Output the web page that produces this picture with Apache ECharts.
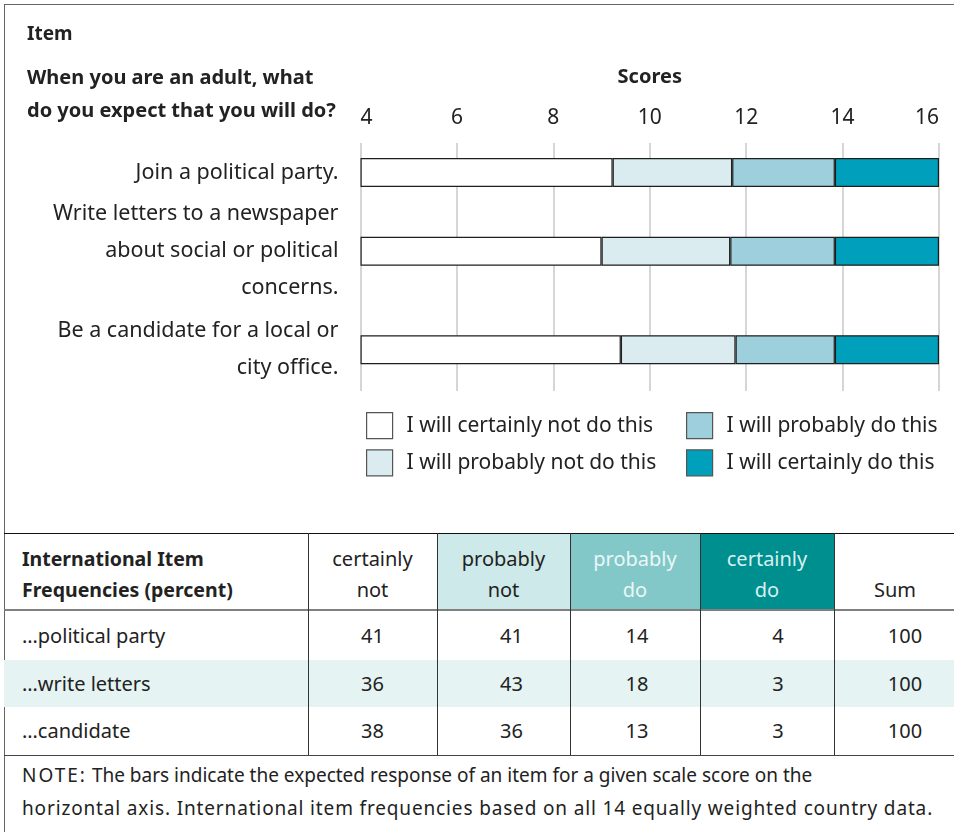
<!DOCTYPE html>
<html>
<head>
<meta charset="utf-8">
<script src="https://cdn.jsdelivr.net/npm/echarts@6/dist/echarts.min.js"></script>
<style>
  html, body { margin: 0; padding: 0; background: #fff; }
  body { width: 954px; height: 832px; position: relative; overflow: hidden; font-family: "Noto Sans", sans-serif; color: #222; }
  #frame { position: absolute; left: 4px; top: 4px; width: 960px; height: 860px; border: 1px solid #666; box-sizing: border-box; }
  #myChart { position: absolute; left: 0; top: 0; width: 954px; height: 530px; }
  .cell { position: absolute; box-sizing: border-box; font-size: 20px; line-height: 31px; white-space: nowrap; }
  .hline { position: absolute; left: 4px; width: 960px; }
  .vline { position: absolute; width: 1px; background: #333; top: 533px; height: 222px; }
  #note { position: absolute; left: 22px; top: 759px; font-size: 19px; line-height: 33px; white-space: nowrap; }
</style>
</head>
<body>
<div id="frame"></div>
<div id="myChart"></div>
<div id="table"></div>
<div id="note"><span style="letter-spacing:2px">NOTE:</span> The bars indicate the expected response of an item for a given scale score on the<br><span style="letter-spacing:0.85px">horizontal axis. International item frequencies based on all 14 equally weighted country data.</span></div>
<script>
// items shown in the chart
const items = [
  'Join a political party.',
  'Write letters to a newspaper\nabout social or political\nconcerns.',
  'Be a candidate for a local or\ncity office.'
]
// scale score where each response band ends
const certainlyNotEnd = [9.23, 9.00, 9.40]
const probablyNotEnd = [11.71, 11.67, 11.78]
const probablyDoEnd = [13.84, 13.84, 13.84]
const certainlyDoEnd = [16, 16, 16]
const scoreTicks = [4, 6, 8, 10, 12, 14, 16]

const seriesNames = [
  'I will certainly not do this',
  'I will probably not do this',
  'I will probably do this',
  'I will certainly do this'
]
const colors = ['#ffffff', '#dbecf0', '#9ecfdc', '#00a0bd']

// table
const rowNames = ['\u2026political party', '\u2026write letters', '\u2026candidate']
const freqCertainlyNot = [41, 36, 38]
const freqProbablyNot = [41, 43, 36]
const freqProbablyDo = [14, 18, 13]
const freqCertainlyDo = [4, 3, 3]
const freqSum = [100, 100, 100]

// layout: rows are placed in 13 equal slots so the spacing matches
const slotCount = 13
const itemSlots = [1, 5, 10]

const xMin = scoreTicks[0]
const xMax = scoreTicks[scoreTicks.length - 1]

let slotLabels = []
for (let i = 0; i < slotCount; i++) slotLabels.push('')
itemSlots.forEach((s, i) => { slotLabels[s] = items[i] })

function toSlots(values) {
  let out = []
  for (let i = 0; i < slotCount; i++) out.push('-')
  itemSlots.forEach((s, i) => { out[s] = values[i] })
  return out
}

const ends = [certainlyNotEnd, probablyNotEnd, probablyDoEnd, certainlyDoEnd]
let series = [{
  name: 'base',
  type: 'bar',
  stack: 'score',
  xAxisIndex: 1,
  yAxisIndex: 1,
  barWidth: 29,
  silent: true,
  itemStyle: { color: 'rgba(0,0,0,0)' },
  data: toSlots(items.map(() => xMin))
}]
ends.forEach((arr, k) => {
  const prev = k === 0 ? items.map(() => xMin) : ends[k - 1]
  series.push({
    name: seriesNames[k],
    type: 'bar',
    stack: 'score',
    xAxisIndex: 1,
    yAxisIndex: 1,
    barWidth: 29,
    itemStyle: { color: colors[k], borderColor: '#1e1e1e', borderWidth: 1.2 },
    data: toSlots(arr.map((v, i) => +(v - prev[i]).toFixed(2)))
  })
})

const legendCommon = {
  orient: 'vertical',
  padding: 0,
  itemWidth: 26,
  itemHeight: 26,
  itemGap: 10,
  selectedMode: false,
  icon: 'rect',
  itemStyle: { borderColor: '#555', borderWidth: 1.2 },
  textStyle: { fontSize: 21, color: '#222', fontFamily: 'Noto Sans', padding: [0, 0, 0, 9] }
}

let myChart = echarts.init(document.getElementById('myChart'))
let option = {
  animation: false,
  textStyle: { fontFamily: 'Noto Sans' },
  title: [
    { text: 'Item', left: 22, top: 20, textStyle: { fontSize: 19, fontWeight: 'bold', color: '#222', fontFamily: 'Noto Sans' } },
    {
      text: 'When you are an adult, what\ndo you expect that you will do?',
      left: 22, top: 57,
      textStyle: { fontSize: 20, fontWeight: 'bold', color: '#222', lineHeight: 33, fontFamily: 'Noto Sans' }
    }
  ],
  legend: [
    Object.assign({ left: 366, top: 412, data: seriesNames.slice(0, 2) }, legendCommon),
    Object.assign({ left: 686, top: 412, data: seriesNames.slice(2, 4) }, legendCommon)
  ],
  grid: [
    { left: 360.5, width: 578.5, top: 143, height: 248 },
    { left: 360.5, width: 578.5, top: 143, height: 256 }
  ],
  xAxis: [
    {
      gridIndex: 0,
      type: 'value',
      position: 'top',
      min: xMin,
      max: xMax,
      interval: 2,
      name: 'Scores',
      nameLocation: 'middle',
      nameGap: 56,
      nameTextStyle: { fontSize: 20, fontWeight: 'bold', color: '#222' },
      axisLine: { show: false },
      axisTick: { show: false },
      axisLabel: { fontSize: 21, color: '#222', margin: 14, alignMinLabel: 'left', alignMaxLabel: 'right' },
      splitLine: { lineStyle: { color: '#c8c8c8', width: 1.5 } }
    },
    { gridIndex: 1, type: 'value', min: xMin, max: xMax, show: false }
  ],
  yAxis: [
    { gridIndex: 0, type: 'value', show: false },
    {
      gridIndex: 1,
      type: 'category',
      inverse: true,
      data: slotLabels,
      axisLine: { show: false },
      axisTick: { show: false },
      splitLine: { show: false },
      axisLabel: { interval: 0, fontSize: 21.5, color: '#222', lineHeight: 37, margin: 22, align: 'right' }
    }
  ],
  series: series
}
myChart.setOption(option)

// frequency table
const table = document.getElementById('table')
const colX = [4, 308, 437, 570, 700, 834, 956]
const headerTop = 534
const bodyTop = 611
const rowH = [49, 47, 48]
const headers = [
  ['certainly', 'not'],
  ['probably', 'not'],
  ['probably', 'do'],
  ['certainly', 'do'],
  ['', 'Sum']
]
const headerBg = ['#fff', '#cde9e9', '#82c8c8', '#008f8f', '#fff']
const headerFg = ['#222', '#222', '#eaf7f7', '#d8f0f0', '#222']
const numShift = [0, 8, 2, 11, 10]
const cols = [freqCertainlyNot, freqProbablyNot, freqProbablyDo, freqCertainlyDo, freqSum]

function add(html, style, cls) {
  const d = document.createElement('div')
  d.className = cls || 'cell'
  d.innerHTML = html
  Object.assign(d.style, style)
  table.appendChild(d)
  return d
}

// stripe behind row 2
add('', { left: '4px', top: (bodyTop + rowH[0]) + 'px', width: '960px', height: rowH[1] + 'px', background: '#e5f3f3' })

// header
add('International Item<br>Frequencies (percent)', {
  left: '22px', top: headerTop + 'px', paddingTop: '9px', fontWeight: 'bold', fontSize: '19.5px'
})
headers.forEach((h, i) => {
  add(h[0] + '<br>' + h[1], {
    left: colX[i + 1] + 'px', top: headerTop + 'px',
    width: (colX[i + 2] - colX[i + 1]) + 'px', height: '75px',
    paddingTop: '9px', textAlign: 'center',
    background: headerBg[i], color: headerFg[i]
  })
})

// body rows
let y = bodyTop
rowNames.forEach((name, r) => {
  add(name, { left: '22px', top: y + 'px', height: rowH[r] + 'px', lineHeight: rowH[r] + 'px' })
  cols.forEach((vals, c) => {
    add(String(vals[r]), {
      left: (colX[c + 1] + numShift[c]) + 'px', top: y + 'px',
      width: (colX[c + 2] - colX[c + 1]) + 'px', height: rowH[r] + 'px',
      lineHeight: rowH[r] + 'px', textAlign: 'center'
    })
  })
  y += rowH[r]
})

// rules
add('', { top: '533px', height: '1px', background: '#111' }, 'hline')
add('', { top: '609px', height: '2px', background: '#808080' }, 'hline')
add('', { top: '755px', height: '1px', background: '#444' }, 'hline')
for (let i = 1; i < colX.length - 1; i++) {
  add('', { left: colX[i] + 'px' }, 'vline')
}
</script>
</body>
</html>
